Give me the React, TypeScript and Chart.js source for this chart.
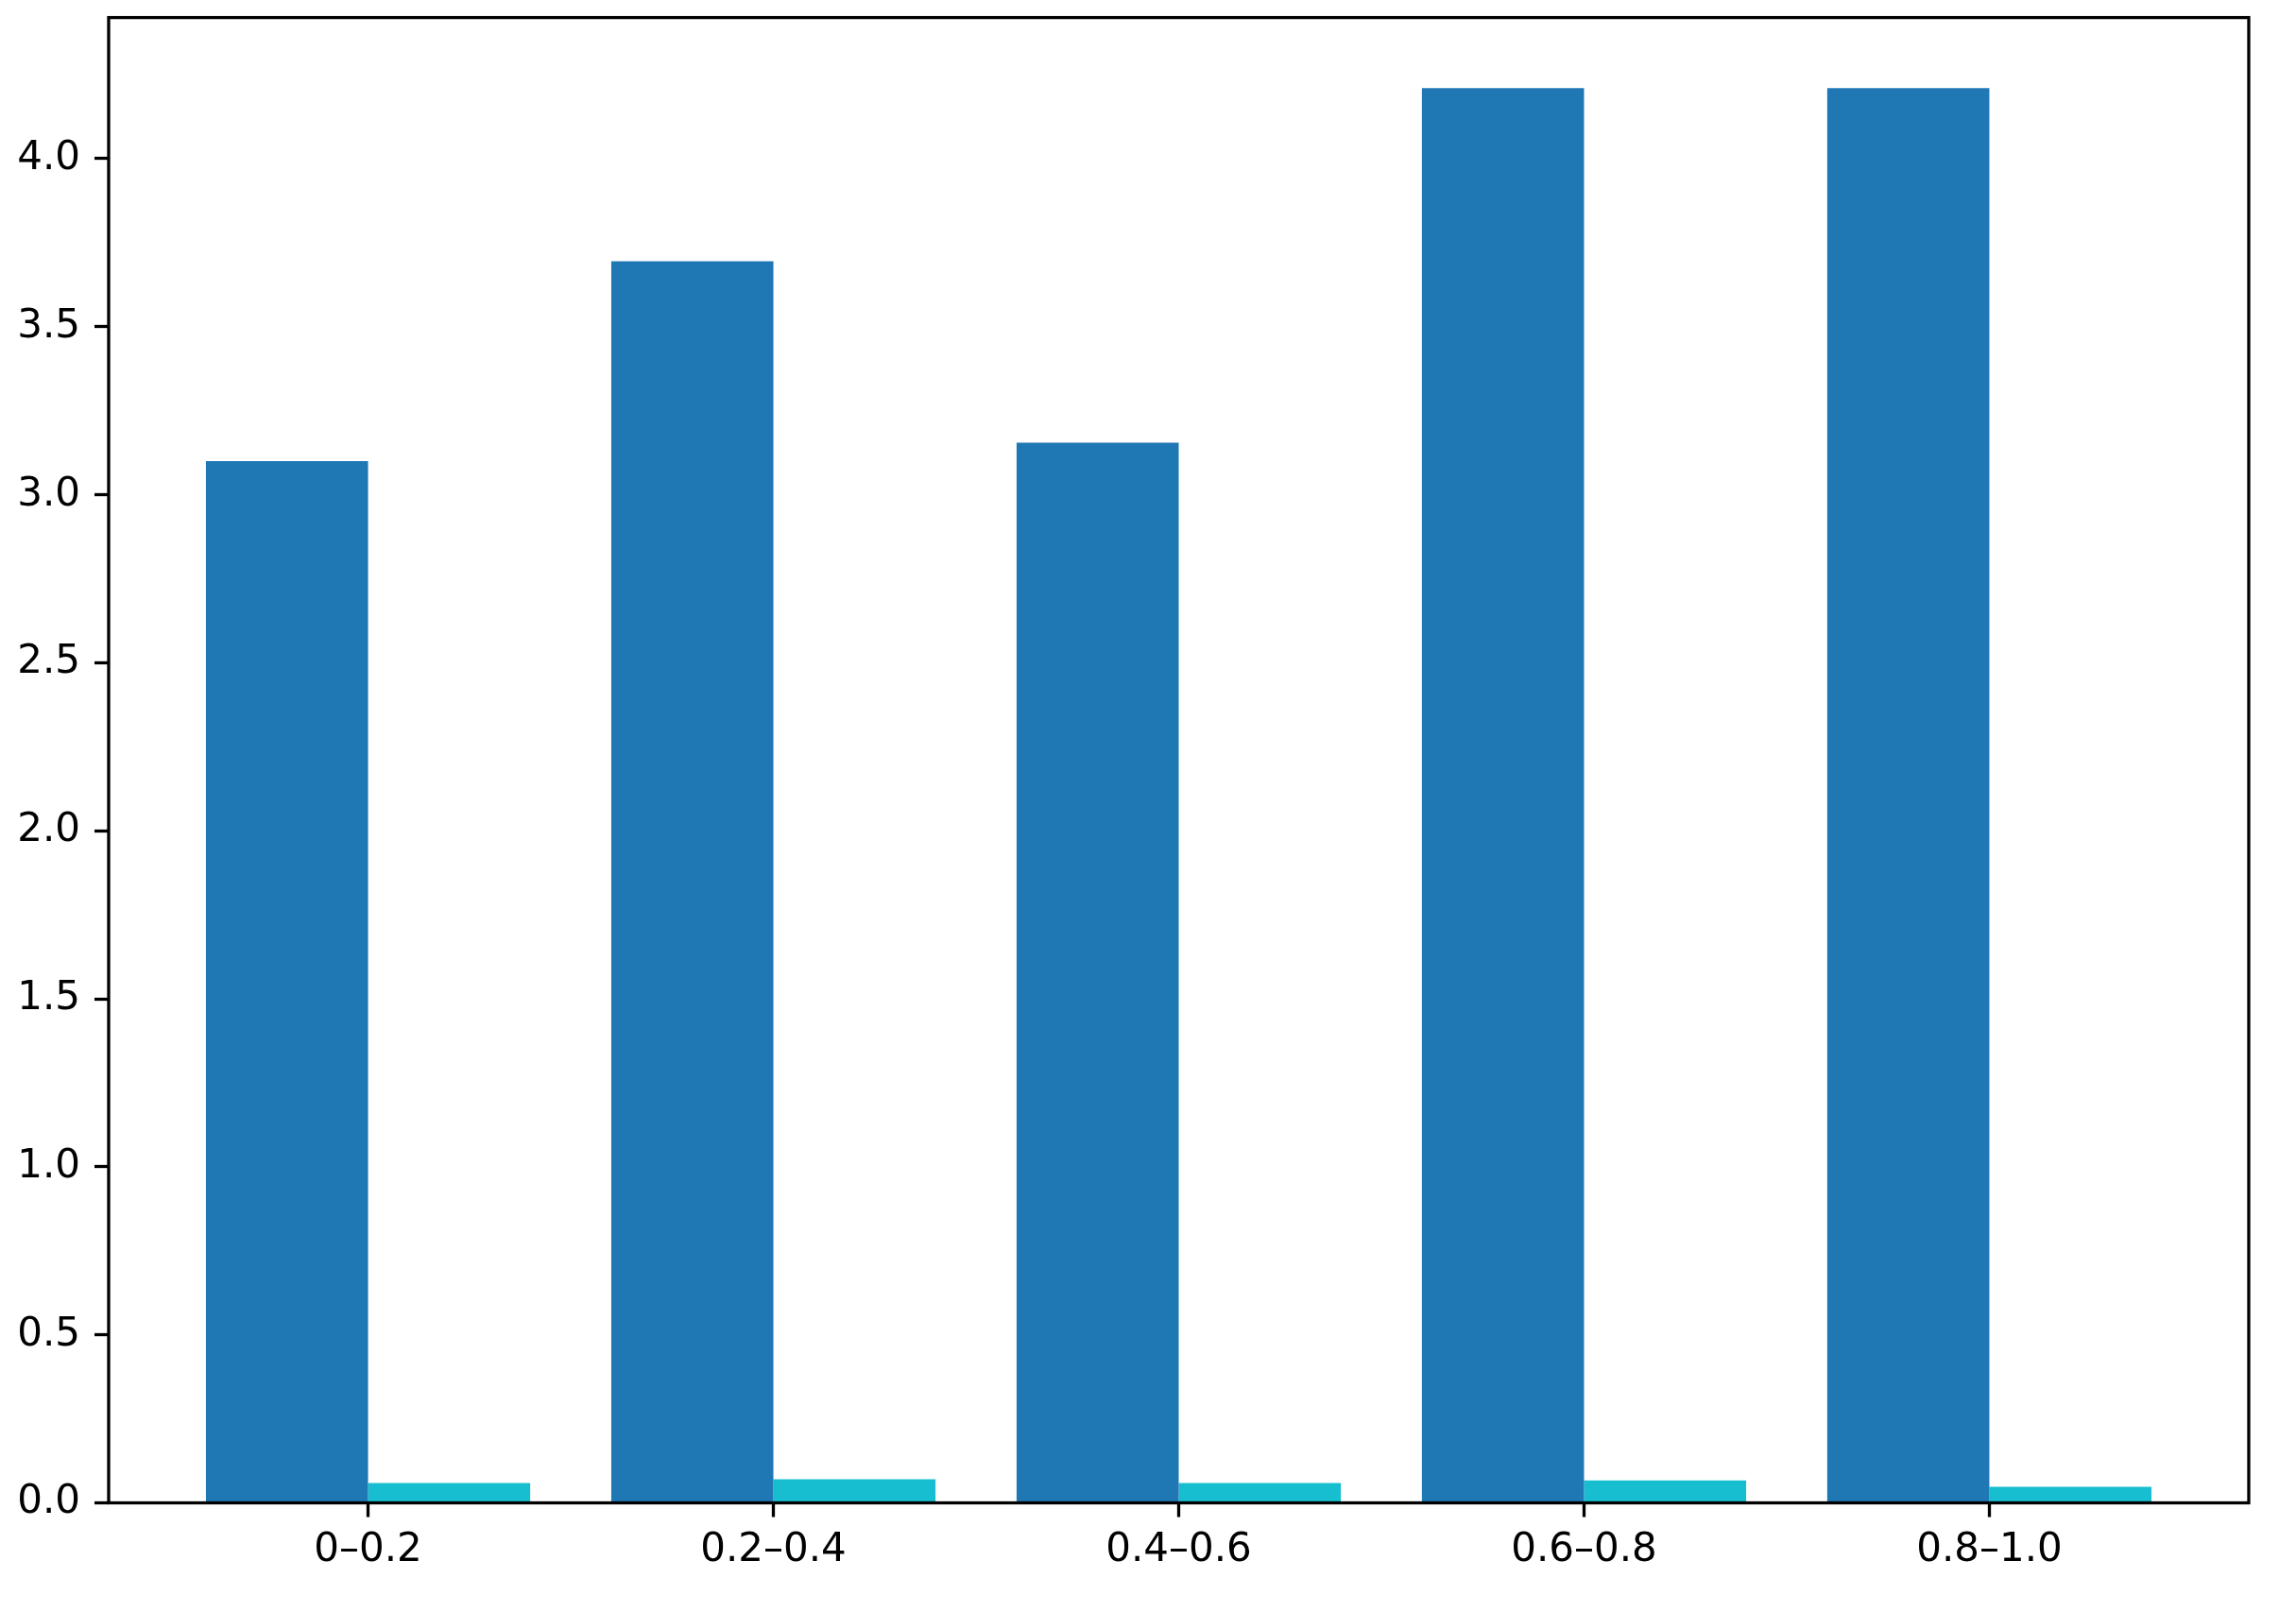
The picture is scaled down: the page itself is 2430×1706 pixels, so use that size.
import React, { useEffect, useRef } from "react";
import { Chart, registerables } from "chart.js";

Chart.register(...registerables);

const categories = ["0–0.2", "0.2–0.4", "0.4–0.6", "0.6–0.8", "0.8–1.0"];
const seriesA = [3.1, 3.695, 3.155, 4.21, 4.21];
const seriesB = [0.059, 0.07, 0.059, 0.067, 0.048];
const yTicks = [0, 0.5, 1.0, 1.5, 2.0, 2.5, 3.0, 3.5, 4.0];
const xTicks = [0, 1, 2, 3, 4];

const W = 2430;
const H = 1706;
const FONT = "'DejaVu Sans', sans-serif";

const framePlugin = {
  id: "frame",
  afterDatasetsDraw(chart: any) {
    const { ctx, chartArea } = chart;
    ctx.save();
    ctx.strokeStyle = "#000";
    ctx.lineWidth = 3.3;
    ctx.strokeRect(
      chartArea.left,
      chartArea.top,
      chartArea.right - chartArea.left,
      chartArea.bottom - chartArea.top
    );
    ctx.restore();
  },
};

export default function App() {
  const ref = useRef<HTMLCanvasElement | null>(null);

  useEffect(() => {
    document.body.style.margin = "0";
    const canvas = ref.current;
    if (!canvas) return;
    const chart = new Chart(canvas, {
      type: "bar",
      data: {
        datasets: [
          {
            label: "A",
            data: seriesA.map((v, i) => ({ x: i, y: v })),
            backgroundColor: "#1f77b4",
            borderWidth: 0,
          },
          {
            label: "B",
            data: seriesB.map((v, i) => ({ x: i, y: v })),
            backgroundColor: "#17becf",
            borderWidth: 0,
          },
        ],
      },
      options: {
        animation: false,
        responsive: false,
        maintainAspectRatio: false,
        devicePixelRatio: 1,
        layout: { padding: { top: 18.6, right: 50, left: 0, bottom: 0 } },
        datasets: {
          bar: { categoryPercentage: 0.8, barPercentage: 1.0 },
        },
        plugins: {
          legend: { display: false },
          title: { display: false },
          tooltip: { enabled: false },
        },
        scales: {
          x: {
            type: "linear",
            min: -0.64,
            max: 4.64,
            offset: false,
            afterBuildTicks: (scale: any) => {
              scale.ticks = xTicks.map((v) => ({ value: v }));
            },
            afterFit: (scale: any) => {
              scale.height = 115.5;
              scale.paddingLeft = 0;
              scale.paddingRight = 0;
            },
            border: { display: false },
            grid: {
              offset: false,
              drawOnChartArea: false,
              drawTicks: true,
              tickLength: 15,
              tickWidth: 3.3,
              tickColor: "#000",
            },
            ticks: {
              autoSkip: false,
              maxRotation: 0,
              minRotation: 0,
              padding: 10,
              color: "#000",
              font: { family: FONT, size: 42 },
              callback: (v: any) => categories[Number(v)] ?? "",
            },
          },
          y: {
            type: "linear",
            min: 0,
            max: 4.42,
            afterBuildTicks: (scale: any) => {
              scale.ticks = yTicks.map((v) => ({ value: v }));
            },
            afterFit: (scale: any) => {
              scale.width = 115;
              scale.paddingTop = 0;
              scale.paddingBottom = 0;
            },
            border: { display: false },
            grid: {
              drawOnChartArea: false,
              drawTicks: true,
              tickLength: 15,
              tickWidth: 3.3,
              tickColor: "#000",
            },
            ticks: {
              padding: 15,
              color: "#000",
              font: { family: FONT, size: 42 },
              callback: (v: any) => Number(v).toFixed(1),
            },
          },
        },
      },
      plugins: [framePlugin],
    } as any);
    return () => chart.destroy();
  }, []);

  return (
    <div style={{ width: W, height: H, background: "#fff" }}>
      <canvas ref={ref} width={W} height={H} style={{ width: W, height: H, display: "block" }} />
    </div>
  );
}
